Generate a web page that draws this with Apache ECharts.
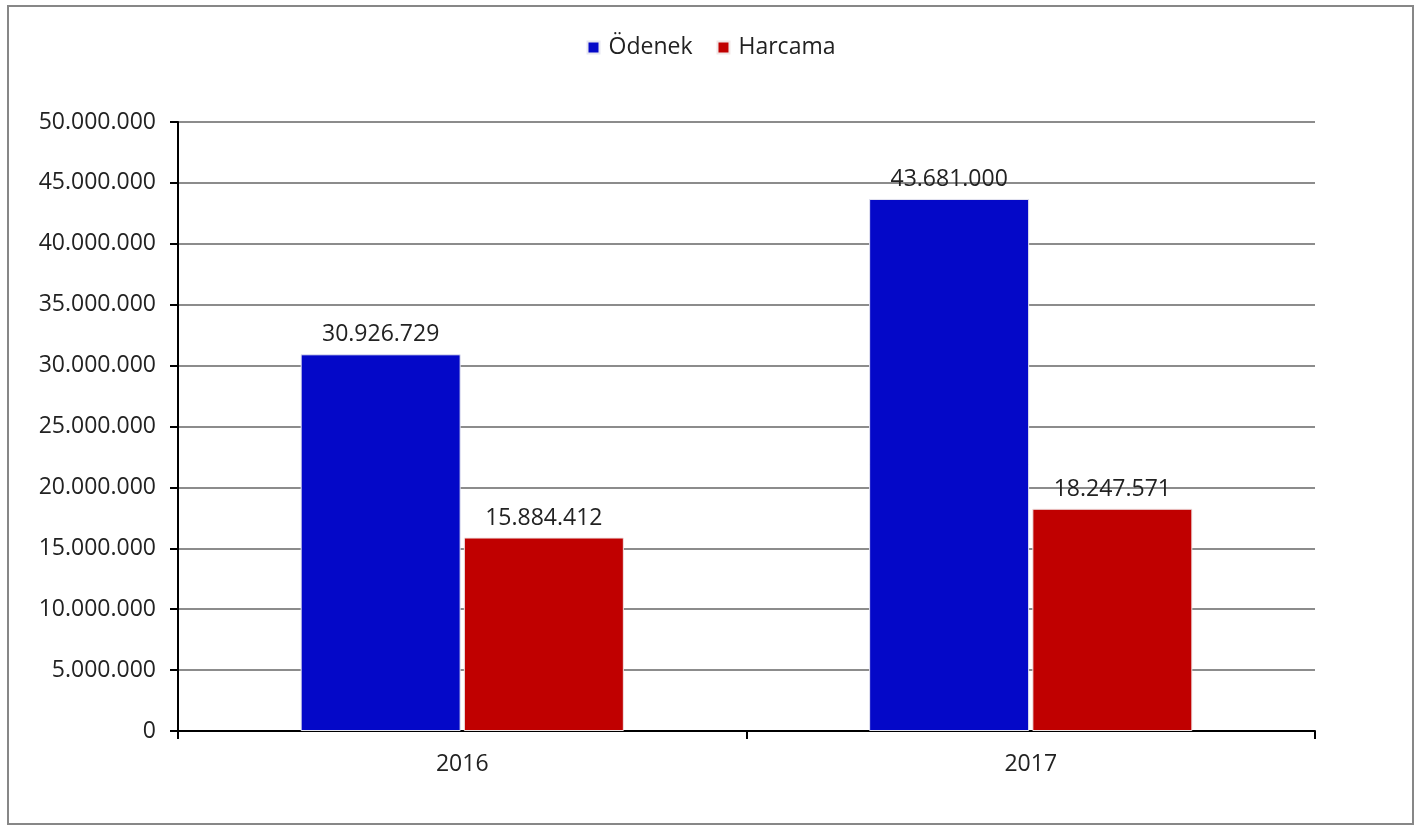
<!DOCTYPE html>
<html>
<head>
<meta charset="utf-8">
<script src="https://cdn.jsdelivr.net/npm/echarts@6/dist/echarts.min.js"></script>
<style>
  html, body { margin: 0; padding: 0; background: #fff; }
  #chart { width: 1422px; height: 826px; }
</style>
</head>
<body>
<div id="chart"></div>
<script>
// veriler
const years = ["2016", "2017"];
const odenek = [30926729, 43681000];
const harcama = [15884412, 18247571];

// 1.234.567 biçimi
function fmt(v) {
  return String(Math.round(v)).replace(/\B(?=(\d{3})+(?!\d))/g, ".");
}

const font = "'Open Sans', 'Noto Sans', sans-serif";
const fs = 23;
const chart = echarts.init(document.getElementById("chart"));

const option = {
  backgroundColor: "#fff",
  animation: false,
  textStyle: { fontFamily: font },
  graphic: [{
    type: "rect",
    shape: { x: 8, y: 6, width: 1405, height: 818 },
    style: { fill: "none", stroke: "#878787", lineWidth: 2 },
    silent: true
  }],
  legend: {
    top: 31,
    left: "center",
    itemWidth: 12,
    itemHeight: 12,
    itemGap: 24,
    icon: "rect",
    textStyle: { fontSize: fs, color: "#222", fontFamily: font, padding: [0, 0, 0, 4] },
    data: ["Ödenek", "Harcama"]
  },
  grid: { left: 178, right: 107, top: 122, bottom: 95 },
  xAxis: {
    type: "category",
    data: years,
    axisLine: { lineStyle: { color: "#000", width: 2 } },
    axisTick: { show: true, length: 8, lineStyle: { color: "#000", width: 2 } },
    axisLabel: { fontSize: fs, color: "#222", margin: 22, fontFamily: font }
  },
  yAxis: {
    type: "value",
    min: 0,
    max: 50000000,
    interval: 5000000,
    axisLine: { show: true, lineStyle: { color: "#000", width: 2 } },
    axisTick: { show: true, inside: false, length: 8, lineStyle: { color: "#000", width: 2 } },
    axisLabel: { fontSize: fs, color: "#222", margin: 22, formatter: fmt, fontFamily: font },
    splitLine: { lineStyle: { color: "#8c8c8c", width: 2 } }
  },
  series: [
    {
      name: "Ödenek",
      type: "bar",
      data: odenek,
      barWidth: 160,
      barGap: "2%",
      itemStyle: { color: "#0408C8", borderColor: "#e6e6f0", borderWidth: 1 },
      label: {
        show: true, position: "top", distance: 8,
        fontSize: fs, color: "#222", formatter: p => fmt(p.value), fontFamily: font
      }
    },
    {
      name: "Harcama",
      type: "bar",
      data: harcama,
      barWidth: 160,
      itemStyle: { color: "#C00000", borderColor: "#f0e6e6", borderWidth: 1 },
      label: {
        show: true, position: "top", distance: 8,
        fontSize: fs, color: "#222", formatter: p => fmt(p.value), fontFamily: font
      }
    }
  ]
};
chart.setOption(option);
</script>
</body>
</html>
